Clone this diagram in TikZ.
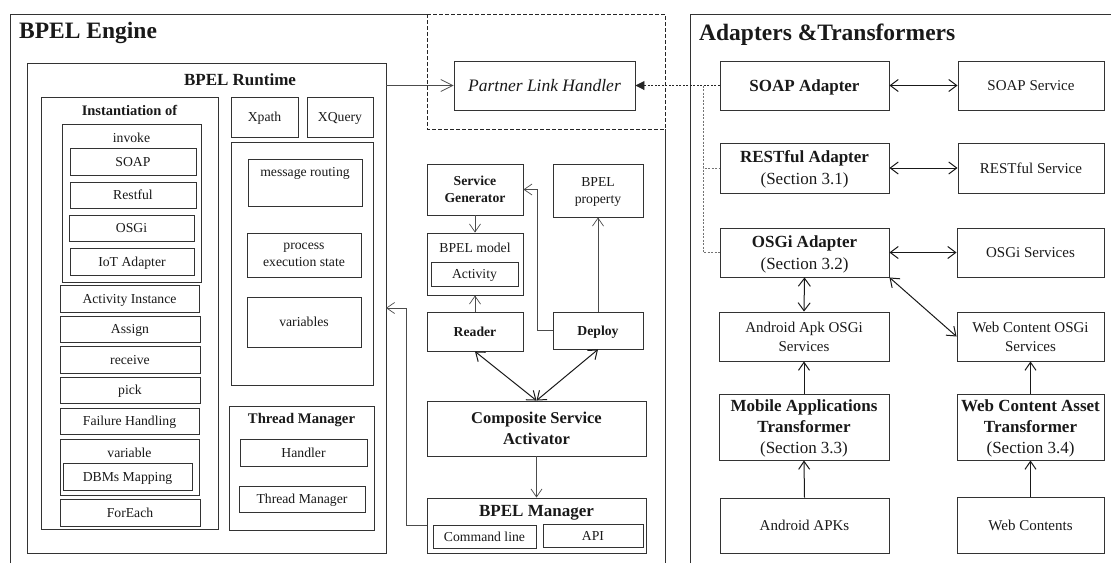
\documentclass[tikz,border=0pt]{standalone}
\usepackage{fontspec}
\setmainfont{Liberation Serif}
\usetikzlibrary{arrows.meta,calc}
\tikzset{
  x=1pt, y=-1pt,
  frame/.style={draw=black!80, line width=1pt},
  dframe/.style={draw=black!85, line width=1pt, dash pattern=on 3.5pt off 2.5pt},
  box/.style={draw=black!80, line width=0.9pt, inner sep=0pt, align=center, text=black!90, text depth=0pt},
  rect/.style n args={4}{minimum width={#3pt-#1pt}, minimum height={#4pt-#2pt}, at={({(#1+#3)/2},{(#2+#4)/2})}},
  txt/.style={inner sep=0pt, align=center, text=black!90},
  fs/.style={font=\fontsize{13.7}{17}\selectfont},
  fsb/.style={font=\fontsize{13.7}{17}\selectfont\bfseries},
  fm/.style={font=\fontsize{15}{19}\selectfont},
  fl/.style={font=\fontsize{17}{22}\selectfont},
  flb/.style={font=\fontsize{17}{21}\selectfont\bfseries},
  ftitle/.style={font=\fontsize{23.5}{26}\selectfont\bfseries},
  conn/.style={draw=black!70, line width=0.7pt, -{Straight Barb[length=8pt,width=11pt]}},
  bconn/.style={draw=black!90, line width=1pt, {Straight Barb[length=8pt,width=12pt]}-{Straight Barb[length=8pt,width=12pt]}},
  gdash/.style={draw=black!55, line width=0.8pt, dash pattern=on 2pt off 1.5pt},
}
\begin{document}
\begin{tikzpicture}
\useasboundingbox (0,0) rectangle (1111,563);

% ---------------- BPEL Engine frame ----------------
\draw[frame] (10,563) -- (10,14) -- (427,14);
\draw[dframe] (427,14) -- (665,14) -- (665,129);
\draw[dframe] (427,14) -- (427,129) -- (665,129);
\draw[frame] (665,129) -- (665,563);
\node[txt, ftitle, anchor=west] (engT) at (19,33) {BPEL Engine};

% BPEL Runtime
\node[box, rect={27}{63}{386}{553}] (rt) {};
\node[txt, flb] (rtT) at (240,80) {BPEL Runtime};

% Instantiation of
\node[box, rect={41}{97}{218}{529}] (inst) {};
\node[txt, font=\fontsize{14.5}{17}\selectfont\bfseries] (instT) at (129.5,110) {Instantiation of};
\node[box, rect={62}{124}{201}{282}] (inv) {};
\node[txt, fs] (invT) at (131.5,138) {invoke};
\node[box, fs, rect={70}{148}{196}{175}] (soap) {SOAP};
\node[box, fs, rect={70}{182}{196}{208}] (rest) {Restful};
\node[box, fs, rect={69}{215}{194}{241}] (osgi) {OSGi};
\node[box, fs, rect={70}{248}{194}{275}] (iot) {IoT Adapter};
\node[box, fs, rect={60}{285}{199}{312}] (actI) {Activity Instance};
\node[box, fs, rect={60}{316}{200}{342}] (assign) {Assign};
\node[box, fs, rect={60}{346}{200}{373}] (recv) {receive};
\node[box, fs, rect={60}{377}{200}{403}] (pick) {pick};
\node[box, fs, rect={60}{408}{199}{434}] (fail) {Failure Handling};
\node[box, rect={60}{439}{199}{495}] (var) {};
\node[txt, fs] (varT) at (129.5,453) {variable};
\node[box, fs, rect={63}{463}{192}{490}] (dbm) {DBMs Mapping};
\node[box, fs, rect={60}{499}{200}{526}] (fore) {ForEach};

% Xpath etc.
\node[box, fs, rect={231}{97}{298}{137}] (xp) {Xpath};
\node[box, fs, rect={307}{97}{373}{137}] (xq) {XQuery};
\node[box, rect={231}{142}{373}{385}] (big) {};
\node[box, rect={248}{159}{362}{206}] (msg) {};
\node[txt, fs] (msgT) at (305,173) {message routing};
\node[box, fs, rect={247}{233}{361}{277}] (proc) {process\\execution state};
\node[box, fs, rect={247}{297}{361}{347}] (vars) {variables};

% Thread Manager
\node[box, rect={229}{406}{374}{530}] (tm) {};
\node[txt, font=\fontsize{14.7}{17}\selectfont\bfseries] (tmT) at (301.5,420) {Thread Manager};
\node[box, fs, rect={240}{439}{367}{466}] (hand) {Handler};
\node[box, fs, rect={239}{486}{365}{512}] (tmi) {Thread Manager};

% Partner Link Handler
\node[box, font=\fontsize{17.5}{21}\selectfont\itshape, rect={454}{61}{635}{110}] (plh) {Partner Link Handler};

% middle column
\node[box, fsb, rect={427}{164}{523}{215}] (sg) {Service\\Generator};
\node[box, fs, rect={553}{164}{643}{217}] (bp) {BPEL\\property};
\node[box, rect={427}{233}{523}{295}] (model) {};
\node[txt, fs] (modelT) at (475,248) {BPEL model};
\node[box, fs, rect={431}{262}{518}{286}] (act) {Activity};
\node[box, fsb, rect={427}{312}{523}{351}] (rd) {Reader};
\node[box, fsb, rect={553}{312}{643}{349}] (dp) {Deploy};
\node[box, font=\fontsize{16.5}{21}\selectfont\bfseries, rect={427}{401}{646}{456}] (csa) {Composite Service\\Activator};
\node[box, rect={427}{498}{646}{553}] (bm) {};
\node[txt, flb] (bmT) at (536.5,513) {BPEL Manager};
\node[box, fs, rect={433}{525}{536}{548}] (cmd) {Command line};
\node[box, fs, rect={543}{524}{643}{547}] (api) {API};

% ---------------- Adapters & Transformers ----------------
\draw[frame] (690,563) -- (690,14) -- (1111,14);
\node[txt, ftitle, anchor=west] (adT) at (699,35) {Adapters \&Transformers};

\node[box, flb, rect={720}{61}{889}{110}] (soapA) {SOAP Adapter};
\node[box, fm, rect={958}{61}{1104}{110}] (soapS) {SOAP Service};
\node[box, fl, rect={720}{143}{889}{193}] (restA) {\textbf{RESTful Adapter}\\(Section 3.1)};
\node[box, fm, rect={958}{143}{1104}{193}] (restS) {RESTful Service};
\node[box, fl, rect={720}{228}{889}{277}] (osgiA) {\textbf{OSGi Adapter}\\(Section 3.2)};
\node[box, fm, rect={957}{228}{1104}{277}] (osgiS) {OSGi Services};
\node[box, fm, rect={719}{312}{889}{361}] (apkO) {Android Apk OSGi\\Services};
\node[box, fm, rect={957}{312}{1104}{361}] (webO) {Web Content OSGi\\Services};
\node[box, font=\fontsize{17}{21}\selectfont, rect={719}{394}{889}{460}] (mob) {\textbf{Mobile Applications}\\\textbf{Transformer}\\(Section 3.3)};
\node[box, font=\fontsize{17}{21}\selectfont, rect={957}{394}{1104}{460}] (wca) {\textbf{Web Content Asset}\\\textbf{Transformer}\\(Section 3.4)};
\node[box, fm, rect={720}{498}{889}{553}] (apks) {Android APKs};
\node[box, fm, rect={957}{497}{1104}{553}] (webc) {Web Contents};

% ---------------- connectors ----------------
\draw[conn, -{Straight Barb[length=12pt,width=12pt]}] (rt.east |- plh.west) -- (plh.west);
\draw[dframe, line width=0.9pt, dash pattern=on 2pt off 1.5pt, -{Triangle[length=9pt,width=9pt]}] (soapA.west) -- (plh.east);
\coordinate (br) at (703,85.5);
\draw[gdash] (br) |- (restA.west);
\draw[gdash] (br) |- (osgiA.west);

\draw[conn] (sg.south) -- (model.north);
\draw[conn] (rd.north) -- (model.south);
\draw[conn] (dp.west) -- ++(-15,0) |- (sg.east);
\draw[conn] (dp.north) -- (bp.south);
\draw[bconn] (rd.south) -- (csa.north);
\draw[bconn] (dp.south) -- (csa.north);
\draw[conn] (csa.south) -- (bm.north);
\coordinate (rtin) at (386,308);
\draw[conn] (bm.west |- 0,525) -- (406,525) |- (rtin);

\draw[bconn] (soapA.east) -- (soapS.west);
\draw[bconn] (restA.east) -- (restS.west);
\draw[bconn] (osgiA.east) -- (osgiS.west);
\draw[bconn] (osgiA.south) -- (apkO.north);
\draw[bconn] (osgiA.south east) -- (webO.west);
\draw[conn, draw=black!90, line width=1pt] (mob.north) -- (apkO.south);
\draw[conn, draw=black!90, line width=1pt] (apks.north) -- (mob.south);
\draw[conn, draw=black!90, line width=1pt] (wca.north) -- (webO.south);
\draw[conn, draw=black!90, line width=1pt] (webc.north) -- (wca.south);
\end{tikzpicture}
\end{document}
